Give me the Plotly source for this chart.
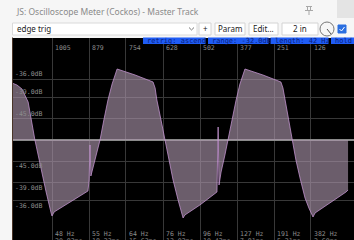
import plotly.graph_objects as go

# ---------------- data ----------------
# x: samples before "now" (scope reads right-to-left), y: linear amplitude x 1e-3
wave_samples = [1141, 1124, 1107, 1093, 1086, 1063, 1042, 1025, 1008, 1005, 998, 944,
                883, 879, 876, 873, 859, 842, 829, 815, 801, 791, 784, 723, 662,
                655, 649, 635, 621, 608, 594, 577, 567, 560, 554, 503, 445, 441,
                438, 431, 418, 408, 394, 380, 367, 357, 350, 289, 228, 221, 214,
                200, 190, 177, 163, 146, 133, 122, 119, 112, 61, 7, 0]
wave_amp = [14.92, 14.39, 13.35, 11.25, 9.94, 0.0, -7.85, -13.61, -19.10, -19.89, -18.84, -16.22,
            -13.35, -10.47, -1.31, -9.42, -5.23, 0.0, 5.23, 10.47, 14.65, 17.27, 18.58, 17.01, 15.18,
            13.61, 10.47, 5.23, 0.0, -5.23, -10.47, -15.70, -18.84, -20.41, -19.63, -17.01, -13.61, 3.40,
            -11.78, -8.37, -3.93, 0.0, 5.23, 10.47, 14.65, 17.27, 18.58, 17.01, 15.18, 13.61, 10.47,
            5.23, 0.0, -5.23, -9.94, -15.18, -17.79, -19.36, -20.15, -19.10, -16.49, -13.61, -13.08]

grid_samples = [1005, 879, 754, 628, 502, 377, 251, 126]
sample_labels = ["1005", "879", "754", "628", "502", "377", "251", "126"]
hz_labels = ["48 Hz", "55 Hz", "64 Hz", "76 Hz", "96 Hz", "127 Hz", "191 Hz", "382 Hz"]
ms_labels = ["20.83ms", "18.23ms", "15.63ms", "13.02ms", "10.42ms", "7.81ms", "5.21ms", "2.60ms"]
db_levels = [-36.0, -39.0, -45.0]
status_labels = ["retrig: ascend", "range: -32.0dB", "length: 42 Hz", "hold"]
title_text = "JS: Oscilloscope Meter (Cockos) - Master Track"
preset_text = "edge trig"
button_labels = ["+", "Param", "Edit...", "2 in"]

# ---------------- layout geometry ----------------
W, H = 354, 240
L, T = 12, 38
PW, PH = W - L, H - T
X_RANGE = [1140.8, -20.2]
Y_RANGE = [-26.17, 26.69]


def PX(x):
    return (x - L) / PW


def PY(y):
    return (H - y) / PH


MONO = "DejaVu Sans Mono"
UI = "Noto Sans"
LABEL_GREY = "#8c8c8c"

db_amps = [1000 * 10 ** (d / 20) for d in db_levels]

fig = go.Figure()
fig.add_trace(go.Scatter(
    x=wave_samples, y=wave_amp, mode="lines", fill="tozeroy",
    fillcolor="rgba(172,150,172,0.62)",
    line=dict(color="rgba(198,150,212,0.85)", width=0.9),
    hoverinfo="skip", showlegend=False))

ann = []
shapes = []

# top sample labels, bottom Hz / ms labels
for s, lab, hz, ms in zip(grid_samples, sample_labels, hz_labels, ms_labels):
    ann.append(dict(x=s, y=PY(48), xref="x", yref="paper", text=lab, showarrow=False,
                    xanchor="left", yanchor="middle", xshift=1,
                    font=dict(family=MONO, size=6.5, color=LABEL_GREY)))
    ann.append(dict(x=s, y=PY(233.5), xref="x", yref="paper", text=hz, showarrow=False,
                    xanchor="left", yanchor="middle", xshift=1,
                    font=dict(family=MONO, size=6.5, color=LABEL_GREY)))
    ann.append(dict(x=s, y=PY(241), xref="x", yref="paper", text=ms, showarrow=False,
                    xanchor="left", yanchor="middle", xshift=1,
                    font=dict(family=MONO, size=6.5, color=LABEL_GREY)))

# dB labels (above lines in upper half, below in lower half)
for d, a in zip(db_levels, db_amps):
    txt = "%.1fdB" % d
    ann.append(dict(x=0, y=a, xref="paper", yref="y", text=txt, showarrow=False,
                    xanchor="left", yanchor="bottom", xshift=1, yshift=-1,
                    font=dict(family=MONO, size=6.5, color=LABEL_GREY)))
    ann.append(dict(x=0, y=-a, xref="paper", yref="y", text=txt, showarrow=False,
                    xanchor="left", yanchor="top", xshift=1, yshift=1,
                    font=dict(family=MONO, size=6.5, color=LABEL_GREY)))

# ---- window chrome ----
ann.append(dict(x=PX(14), y=PY(11), xref="paper", yref="paper", text=title_text,
                showarrow=False, xanchor="left", yanchor="middle",
                font=dict(family=UI, size=8.5, color="#8a8a8a")))
shapes.append(dict(type="rect", xref="paper", yref="paper", x0=PX(337), x1=PX(356),
                   y0=PY(0), y1=PY(18), fillcolor="#e4e4e4", line=dict(width=0)))
pin_col = "#a8a8a8"
shapes.append(dict(type="line", xref="paper", yref="paper", x0=PX(306), x1=PX(312),
                   y0=PY(6.5), y1=PY(6.5), line=dict(color=pin_col, width=1)))
shapes.append(dict(type="rect", xref="paper", yref="paper", x0=PX(307.5), x1=PX(310.5),
                   y0=PY(6.5), y1=PY(10.5), line=dict(color=pin_col, width=1)))
shapes.append(dict(type="line", xref="paper", yref="paper", x0=PX(305), x1=PX(313),
                   y0=PY(10.5), y1=PY(10.5), line=dict(color=pin_col, width=1)))
shapes.append(dict(type="line", xref="paper", yref="paper", x0=PX(309), x1=PX(309),
                   y0=PY(10.5), y1=PY(15), line=dict(color=pin_col, width=1)))

shapes.append(dict(type="rect", xref="paper", yref="paper", x0=PX(12.5), x1=PX(197),
                   y0=PY(23), y1=PY(35), fillcolor="#ffffff", line=dict(color="#dadada", width=1)))
ann.append(dict(x=PX(15), y=PY(29), xref="paper", yref="paper", text=preset_text,
                showarrow=False, xanchor="left", yanchor="middle",
                font=dict(family=UI, size=8, color="#222222")))
shapes.append(dict(type="path", xref="paper", yref="paper",
                   path="M %f %f L %f %f L %f %f" % (PX(189), PY(27.5), PX(191.5), PY(30),
                                                    PX(194), PY(27.5)),
                   line=dict(color="#777777", width=1)))

btn_x = [(199, 211), (215, 245), (249, 278), (282, 318)]
for (x0, x1), lab in zip(btn_x, button_labels):
    shapes.append(dict(type="rect", xref="paper", yref="paper", x0=PX(x0), x1=PX(x1),
                       y0=PY(23), y1=PY(35), fillcolor="#ffffff",
                       line=dict(color="#d4d4d4", width=1)))
    ann.append(dict(x=PX((x0 + x1) / 2), y=PY(29), xref="paper", yref="paper", text=lab,
                    showarrow=False, xanchor="center", yanchor="middle",
                    font=dict(family=UI, size=8, color="#222222")))

shapes.append(dict(type="circle", xref="paper", yref="paper", x0=PX(320), x1=PX(334),
                   y0=PY(22), y1=PY(36), line=dict(color="#777777", width=1)))
shapes.append(dict(type="line", xref="paper", yref="paper", x0=PX(327), x1=PX(331),
                   y0=PY(29), y1=PY(34), line=dict(color="#555555", width=1)))
shapes.append(dict(type="rect", xref="paper", yref="paper", x0=PX(338), x1=PX(346),
                   y0=PY(25), y1=PY(33), fillcolor="#2b6fe0", line=dict(color="#2b6fe0", width=1)))
shapes.append(dict(type="path", xref="paper", yref="paper",
                   path="M %f %f L %f %f L %f %f" % (PX(339.5), PY(29), PX(341.5), PY(31),
                                                    PX(344.5), PY(27)),
                   line=dict(color="#ffffff", width=1)))

status_x = [(143, 205.5), (208, 268.5), (270.5, 328.5), (331, 356)]
for (x0, x1), lab in zip(status_x, status_labels):
    shapes.append(dict(type="rect", xref="paper", yref="paper", x0=PX(x0), x1=PX(x1),
                       y0=PY(37.5), y1=PY(44), fillcolor="#1f5cf5", line=dict(width=0)))
    ann.append(dict(x=PX(x0 + 2), y=PY(40.7), xref="paper", yref="paper", text=lab,
                    showarrow=False, xanchor="left", yanchor="middle",
                    font=dict(family=MONO, size=7, color="#0b1f7a")))

shapes.append(dict(type="line", xref="paper", yref="paper", x0=PX(12.5), x1=PX(12.5),
                   y0=PY(37.5), y1=PY(240), line=dict(color="#4a3528", width=1)))

fig.update_layout(
    width=W, height=H, autosize=False,
    margin=dict(l=L, r=0, t=T, b=0, pad=0),
    paper_bgcolor="#f6f6f6", plot_bgcolor="#000000",
    showlegend=False,
    xaxis=dict(range=X_RANGE, tickvals=grid_samples, showticklabels=False,
               showgrid=True, gridcolor="#383838", gridwidth=1, zeroline=False,
               showline=False, ticks="", fixedrange=True),
    yaxis=dict(range=Y_RANGE, tickvals=[a for a in db_amps] + [-a for a in db_amps],
               showticklabels=False, showgrid=True, gridcolor="#383838", gridwidth=1,
               zeroline=True, zerolinecolor="#8a8a8a", zerolinewidth=1.5,
               showline=False, ticks="", fixedrange=True),
    annotations=ann, shapes=shapes,
)

fig.write_html("out.html", config={"displayModeBar": False},
               post_script="document.body.style.margin='0px';document.body.style.overflow='hidden';")
